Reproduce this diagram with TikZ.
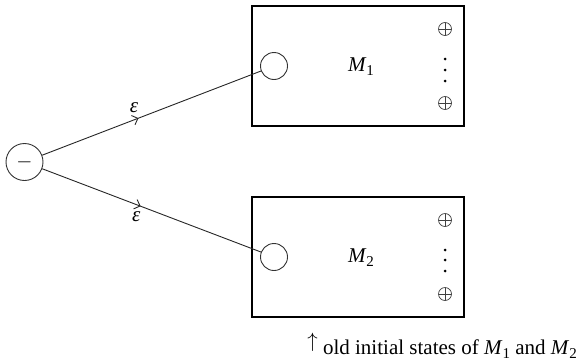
\documentclass[tikz,border=0pt]{standalone}
\usepackage{fontspec}
\setmainfont{Liberation Serif}
\usetikzlibrary{decorations.markings,arrows.meta}
\newcommand{\Mach}[1]{\textit{M}\raisebox{-0.2em}{\fontsize{15}{15}\selectfont #1}}
\tikzset{
  machine/.style={draw=black, line width=2.4pt},
  state/.style={draw=black!80, circle, line width=0.9pt, inner sep=0pt, minimum size=#1},
  final/.style={draw=black!75, circle, line width=0.7pt, inner sep=0pt, minimum size=13pt,
    path picture={\draw[black!75, line width=0.7pt]
      (path picture bounding box.north) -- (path picture bounding box.south)
      (path picture bounding box.west) -- (path picture bounding box.east);}},
  dotmark/.style={fill=black, circle, inner sep=0pt, minimum size=3pt},
  lbl/.style={font=\fontsize{21}{25}\selectfont},
  eps/.style={draw=black!85, line width=0.9pt,
    postaction={decorate, decoration={markings,
      mark=at position #1 with {\arrow[black!85, line width=0.9pt]{Straight Barb[length=5pt, width=10pt]}}}}}
}
\begin{document}
\begin{tikzpicture}[x=1pt, y=-1pt]
  \useasboundingbox (0,0) rectangle (578,362);

  % the two machines
  \draw[machine] (252,6) rectangle (464,126);
  \draw[machine] (252,197) rectangle (464,317);

  % new initial state
  \node[state=37pt] (s) at (24.5,162) {};
  \node[lbl] at (s.center) {$-$};

  % old initial states
  \node[state=27pt] (q1) at (274,66) {};
  \node[state=27pt] (q2) at (274,257) {};

  % machine names
  \node[lbl] (m1) at (361,67) {\Mach{1}};
  \node[lbl] (m2) at (361,258) {\Mach{2}};

  % accepting states of M1
  \node[final] (f1a) at (445,29) {};
  \node[final] (f1b) at (445,103) {};
  \node[dotmark] (d1a) at (445,59) {};
  \node[dotmark] (d1b) at (445,70) {};
  \node[dotmark] (d1c) at (445,81) {};

  % accepting states of M2
  \node[final] (f2a) at (445,220) {};
  \node[final] (f2b) at (445,294) {};
  \node[dotmark] (d2a) at (445,250) {};
  \node[dotmark] (d2b) at (445,260) {};
  \node[dotmark] (d2c) at (445,271) {};

  % epsilon transitions
  \draw[eps=0.44] (s) -- (q1) node[lbl, pos=0.42, above=3pt] {\textit{ε}};
  \draw[eps=0.45] (s) -- (q2) node[lbl, pos=0.43, below=3pt] {\textit{ε}};

  % note
  \node[lbl, anchor=base east, inner sep=0pt] (note) at (577,354)
    {\raisebox{0.3em}{$\uparrow$}\ old initial states of \Mach{1} and \Mach{2}};
\end{tikzpicture}
\end{document}
